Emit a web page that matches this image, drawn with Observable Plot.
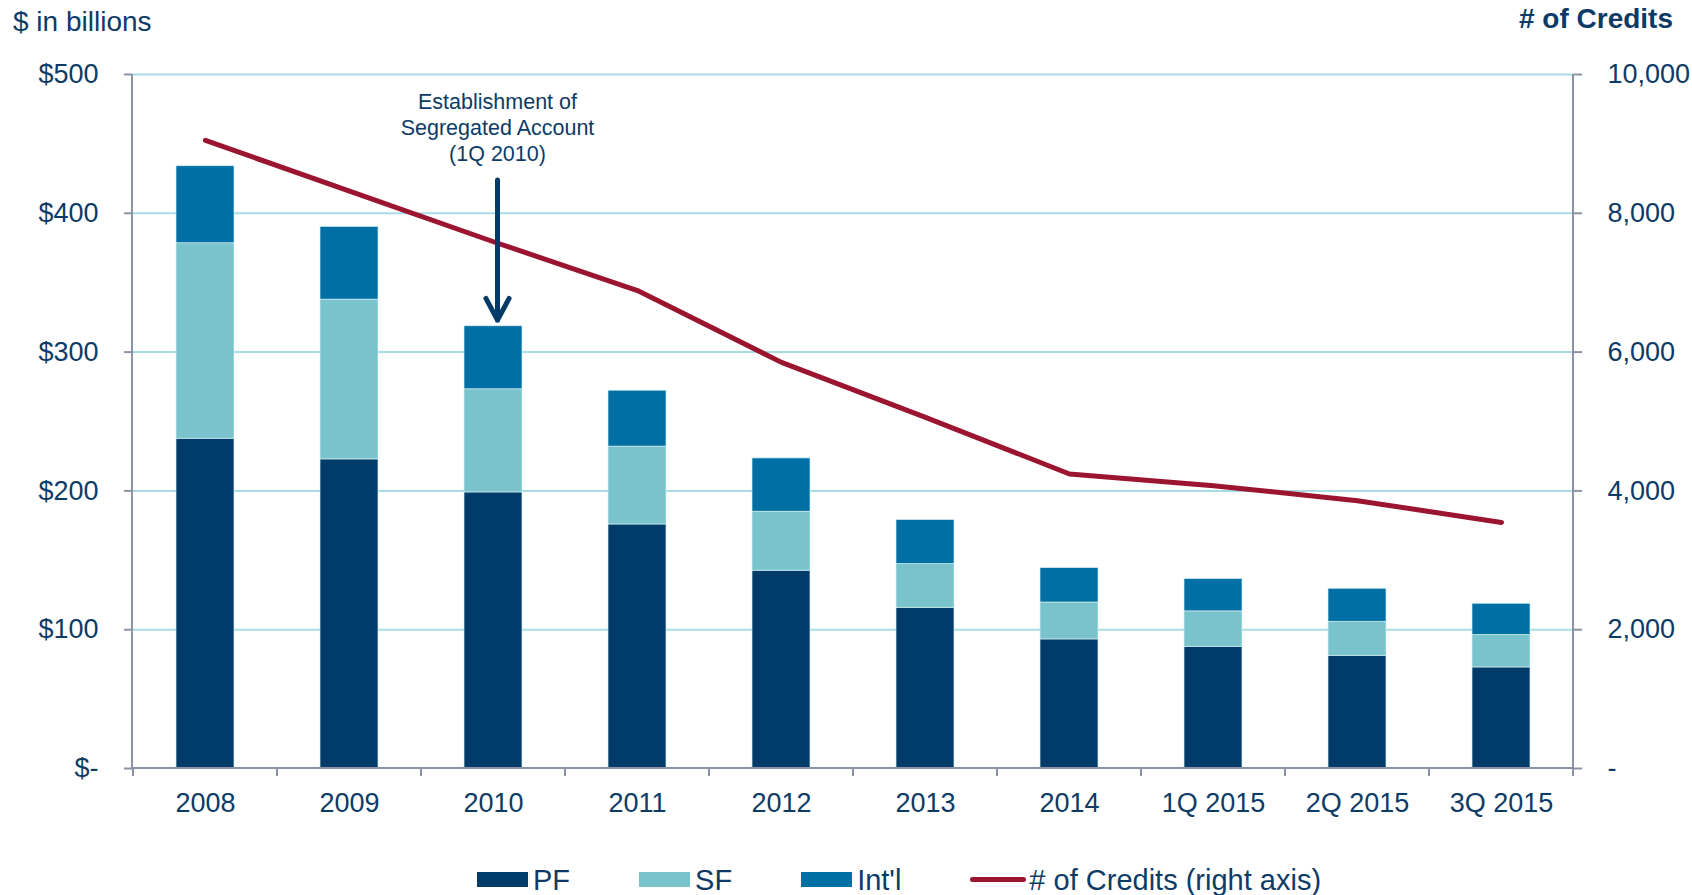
<!DOCTYPE html>
<html>
<head>
<meta charset="utf-8">
<script src="https://cdn.jsdelivr.net/npm/d3@7"></script>
<script src="https://cdn.jsdelivr.net/npm/@observablehq/plot@0.6"></script>
<style>
  body { margin: 0; background: #fff; font-family: "Liberation Sans", Arial, sans-serif; color: #0d3b66; }
  #wrap { position: relative; width: 1692px; height: 895px; overflow: hidden; }
  .ttl { position: absolute; font-size: 28px; line-height: 28px; white-space: nowrap; }
  #chart { position: absolute; left: 0; top: 50px; }
  #legend { position: absolute; left: 477px; top: 850px; height: 60px; display: flex; align-items: center; font-size: 29px; line-height: 1.2; white-space: nowrap; }
  .item { display: flex; align-items: center; margin-right: 69px; }
  .sw { width: 51px; height: 15px; margin-right: 5px; }
  .lsw { width: 56px; height: 5px; border-radius: 3px; margin-right: 3px; }
</style>
</head>
<body>
<div id="wrap">
  <div class="ttl" style="left:13px; top:8px;">$ in billions</div>
  <div class="ttl" style="right:19px; top:5px; font-weight:bold;"># of Credits</div>
  <div id="chart"></div>
  <div id="legend"></div>
</div>
<script>
// ---- Data ----
const categories = ["2008", "2009", "2010", "2011", "2012", "2013", "2014", "1Q 2015", "2Q 2015", "3Q 2015"];
const seriesNames = ["PF", "SF", "Int'l"];
const pf   = [237.6, 222.7, 198.9, 175.8, 142.5, 115.8, 93.0, 87.7, 81.2, 72.8];
const sf   = [140.8, 115.1, 74.3, 56.1, 42.5, 31.5, 26.6, 25.5, 24.5, 23.4];
const intl = [55.5, 52.4, 45.4, 40.3, 38.4, 31.7, 24.8, 23.3, 23.8, 22.5];
const credits = [9050, 8320, 7590, 6886, 5852, 5060, 4244, 4075, 3859, 3546];
const leftTicks = [0, 100, 200, 300, 400, 500];
const lineName = "# of Credits (right axis)";
const annotationText = "Establishment of\nSegregated Account\n(1Q 2010)";

// ---- Styles ----
const colors = ["#003b69", "#78c3cc", "#006fa3"];
const lineColor = "#9b1530";
const textColor = "#0d3b66";
const axisColor = "#8a93a3";
const gridColor = "#a9dce2";
const ratio = 20; // right axis (credits) = left axis value * 20

const rows = [];
categories.forEach((c, i) => {
  rows.push({cat: c, series: "PF", value: pf[i]});
  rows.push({cat: c, series: "SF", value: sf[i]});
  rows.push({cat: c, series: "Int'l", value: intl[i]});
});
const lineRows = categories.map((c, i) => ({cat: c, credits: credits[i]}));

// axis lines and category boundary ticks, drawn from the plot's own scales
function axisFrame(index, scales, values, dims) {
  const x = scales.x, y = scales.y;
  const left = dims.marginLeft, right = dims.width - dims.marginRight;
  const top = dims.marginTop, y0 = y(0);
  const step = x.step ? x.step() : (right - left) / categories.length;
  const bw = x.bandwidth ? x.bandwidth() : step * 0.4;
  const bounds = categories.map(c => x(c) - (step - bw) / 2);
  bounds.push(x(categories[categories.length - 1]) + bw + (step - bw) / 2);
  const g = d3.create("svg:g").attr("stroke", axisColor).attr("stroke-width", 2).attr("fill", "none");
  g.append("line").attr("x1", left).attr("x2", left).attr("y1", top).attr("y2", y0);
  g.append("line").attr("x1", right).attr("x2", right).attr("y1", top).attr("y2", y0);
  g.append("line").attr("x1", left).attr("x2", right).attr("y1", y0).attr("y2", y0);
  for (const b of bounds) {
    g.append("line").attr("x1", b).attr("x2", b).attr("y1", y0).attr("y2", y0 + 8);
  }
  return g.node();
}

const chart = Plot.plot({
  width: 1692,
  height: 800,
  marginLeft: 132,
  marginRight: 119,
  marginTop: 24,
  marginBottom: 82,
  style: {fontFamily: '"Liberation Sans", Arial, sans-serif', fontSize: "27px", color: textColor, background: "white", overflow: "visible"},
  x: {type: "band", domain: categories, paddingInner: 0.6, paddingOuter: 0.3, axis: null},
  y: {domain: [0, 500], axis: null},
  color: {domain: seriesNames, range: colors},
  marks: [
    Plot.ruleY(leftTicks.filter(d => d > 0), {stroke: gridColor, strokeWidth: 2}),
    Plot.barY(rows, {x: "cat", y: "value", fill: "series", stroke: "#d6edf0", strokeWidth: 0.7}),
    axisFrame,
    Plot.line(lineRows, {x: "cat", y: d => d.credits / ratio, stroke: lineColor, strokeWidth: 5, strokeLinecap: "round", strokeLinejoin: "round"}),
    Plot.arrow([{cat: "2010", from: 424, to: 323}], {x: "cat", y1: "from", y2: "to", dx: 4, stroke: "#003b69", strokeWidth: 5, headLength: 7.4, headAngle: 56}),
    Plot.text([{cat: "2010", v: 462.5, t: annotationText}], {x: "cat", y: "v", text: "t", dx: 4, fontSize: 21.5, lineHeight: 1.22, fill: textColor}),
    Plot.axisY({anchor: "left", ticks: leftTicks, tickSize: 8, tickPadding: 26, stroke: axisColor, strokeWidth: 2, fill: textColor, label: null,
      tickFormat: d => d === 0 ? "$-" : "$" + d}),
    Plot.axisY({anchor: "right", ticks: leftTicks, tickSize: 8, tickPadding: 26, stroke: axisColor, strokeWidth: 2, fill: textColor, label: null,
      tickFormat: d => d === 0 ? "-" : d3.format(",")(d * ratio)}),
    Plot.axisX({domain: categories, tickSize: 0, tickPadding: 24, fill: textColor, label: null})
  ]
});
document.getElementById("chart").appendChild(chart);

// ---- Legend ----
const legend = d3.select("#legend");
seriesNames.forEach((s, i) => {
  const it = legend.append("div").attr("class", "item");
  it.append("div").attr("class", "sw").style("background", colors[i]);
  it.append("span").text(s);
});
const li = legend.append("div").attr("class", "item");
li.append("div").attr("class", "lsw").style("background", lineColor);
li.append("span").text(lineName);
</script>
</body>
</html>
